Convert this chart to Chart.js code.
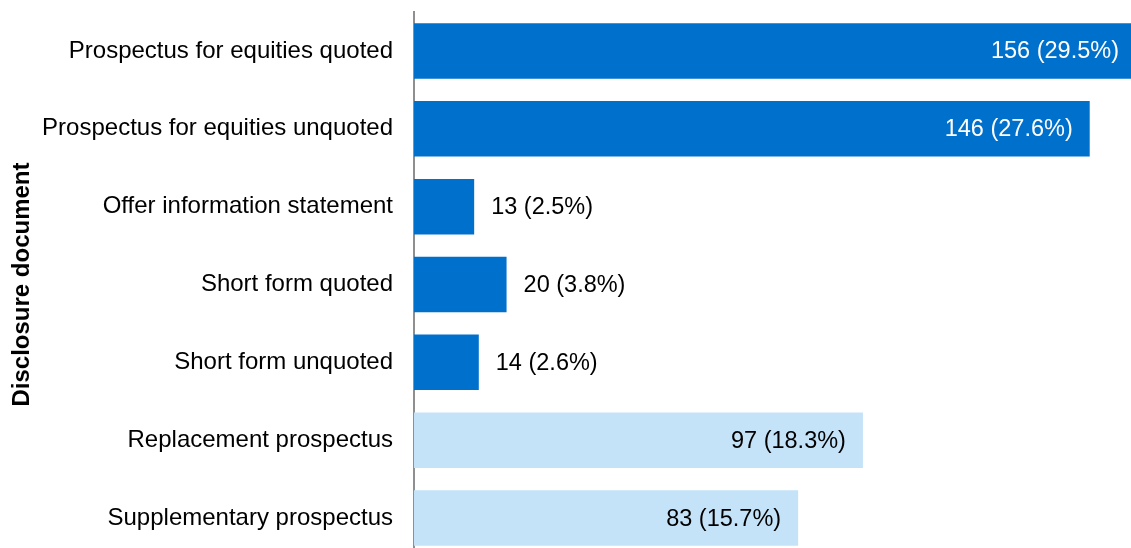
<!DOCTYPE html>
<html lang="en">
<head>
    <meta charset="UTF-8">
    <title>Disclosure documents</title>
    <script src="https://cdn.jsdelivr.net/npm/chart.js"></script>
    <style>
        html, body { margin: 0; padding: 0; background: #fff; overflow: hidden; }
        #wrap { position: relative; width: 1136px; height: 557px; }
    </style>
</head>
<body>
    <div id="wrap">
        <canvas id="myChart"></canvas>
    </div>

    <script>
        // Datos
        const categorias = [
            'Prospectus for equities quoted',
            'Prospectus for equities unquoted',
            'Offer information statement',
            'Short form quoted',
            'Short form unquoted',
            'Replacement prospectus',
            'Supplementary prospectus'
        ];
        const valores = [156, 146, 13, 20, 14, 97, 83];
        const porcentajes = [29.5, 27.6, 2.5, 3.8, 2.6, 18.3, 15.7];

        const azulOscuro = '#0070CD';
        const azulClaro = '#C5E3F8';
        const colores = categorias.map((c, i) => i < 5 ? azulOscuro : azulClaro);
        const coloresTexto = categorias.map((c, i) => i < 5 ? '#ffffff' : '#000000');

        // Etiquetas de valor: dentro de la barra si cabe, si no, fuera
        const etiquetas = {
            id: 'etiquetas',
            afterDatasetsDraw(chart) {
                const ctx = chart.ctx;
                const meta = chart.getDatasetMeta(0);
                const area = chart.chartArea;
                const pad = 17;
                ctx.save();
                ctx.font = '23.5px "Liberation Sans", Arial, sans-serif';
                ctx.textBaseline = 'middle';
                meta.data.forEach((bar, i) => {
                    const texto = valores[i] + ' (' + porcentajes[i].toFixed(1) + '%)';
                    const ancho = ctx.measureText(texto).width;
                    const fin = Math.min(bar.x, area.right);
                    if (fin - bar.base > ancho + pad * 2) {
                        ctx.fillStyle = coloresTexto[i];
                        ctx.textAlign = 'right';
                        ctx.fillText(texto, fin - pad, bar.y + 1);
                    } else {
                        ctx.fillStyle = '#000000';
                        ctx.textAlign = 'left';
                        ctx.fillText(texto, fin + pad, bar.y + 1);
                    }
                });
                ctx.restore();
            }
        };

        const ctx = document.getElementById('myChart').getContext('2d');
        const myChart = new Chart(ctx, {
            type: 'bar',
            data: {
                labels: categorias,
                datasets: [{
                    data: valores,
                    backgroundColor: colores,
                    borderWidth: 0,
                    barPercentage: 0.713,
                    categoryPercentage: 1
                }]
            },
            options: {
                indexAxis: 'y',
                responsive: true,
                maintainAspectRatio: false,
                animation: false,
                layout: { padding: { top: 12, right: 0, bottom: 0, left: 0 } },
                plugins: {
                    legend: { display: false },
                    tooltip: { enabled: false }
                },
                scales: {
                    x: {
                        display: false,
                        min: 0,
                        max: 156
                    },
                    y: {
                        afterFit: s => {
                            s.width = 414;
                            s.paddingTop = 0;
                            s.paddingBottom = 0;
                        },
                        grid: { display: false, drawTicks: false },
                        border: { display: true, color: '#8f8f8f', width: 2 },
                        ticks: {
                            padding: 21,
                            color: '#000000',
                            font: { family: '"Liberation Sans", Arial, sans-serif', size: 24 }
                        },
                        title: {
                            display: true,
                            text: 'Disclosure document',
                            color: '#000000',
                            padding: { top: 8, bottom: 0 },
                            font: { family: '"Liberation Sans", Arial, sans-serif', size: 24, weight: 'bold' }
                        }
                    }
                }
            },
            plugins: [etiquetas]
        });
    </script>
</body>
</html>
